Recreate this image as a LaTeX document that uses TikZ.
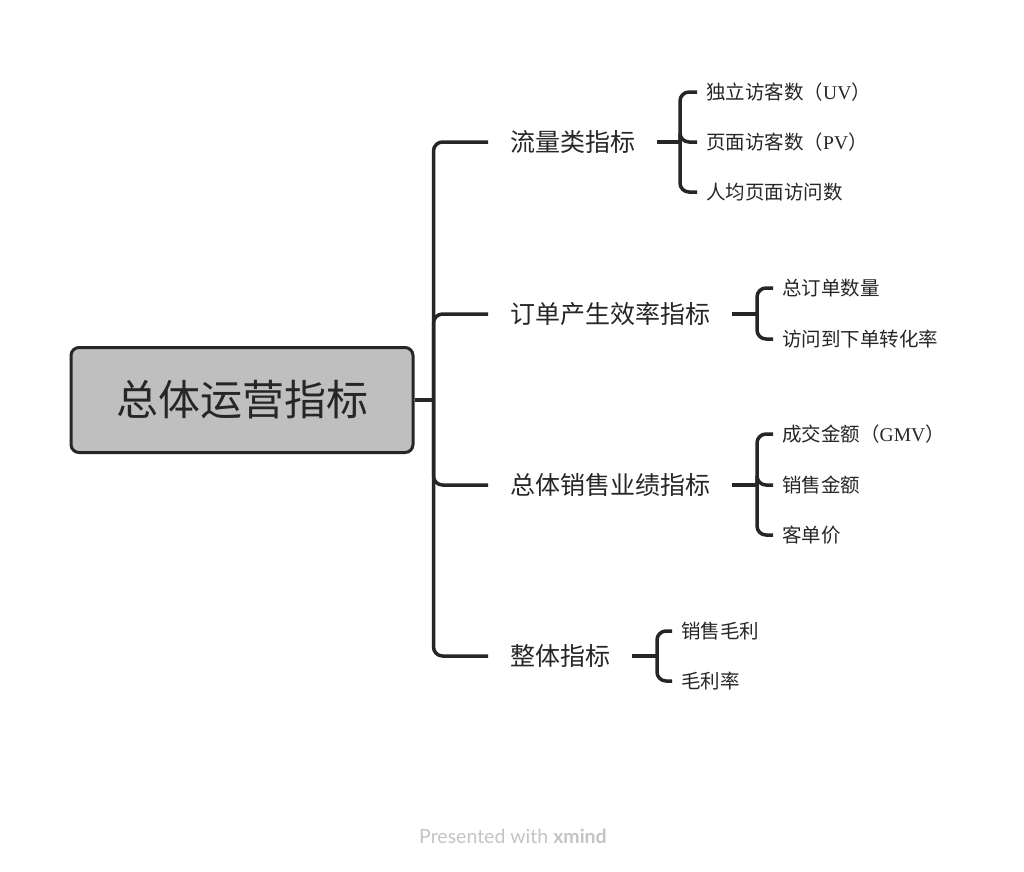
\documentclass[tikz,border=0pt]{standalone}
\usepackage{fontspec}
\newfontfamily\cjk{Noto Sans CJK SC}
\newfontfamily\lat{Liberation Serif}
\newfontfamily\foot{Lato}
\definecolor{linegray}{HTML}{262626}
\definecolor{rootgray}{HTML}{BFBFBF}
\definecolor{footgray}{HTML}{C4C4C4}
\tikzset{
	rootbox/.style = {draw = linegray, line width = 3pt, fill = rootgray, rounded corners = 8pt,
		minimum width = 342pt, minimum height = 105pt, font = \cjk\fontsize{42}{50}\selectfont, text = linegray},
	branch/.style = {anchor = west, inner xsep = 22pt, font = \cjk\fontsize{25}{30}\selectfont, text = linegray},
	leaf/.style = {anchor = west, inner xsep = 9pt, font = \cjk\fontsize{19.5}{24}\selectfont, text = linegray},
	conn/.style = {draw = linegray, line width = 3.5pt, rounded corners = 9pt}
}
\begin{document}
\begin{tikzpicture} [x = 1pt, y = -1pt]
	\useasboundingbox [fill = white] (0,0) rectangle (1024,871);
	% root
	\node [rootbox] (root) at (242,400) {总体运营指标};
	% branches
	\node [branch] (flow) at (488,142) {流量类指标};
	\node [branch] (order) at (488,314) {订单产生效率指标};
	\node [branch] (sales) at (488,485) {总体销售业绩指标};
	\node [branch] (total) at (488,656) {整体指标};
	% leaves
	\node [leaf] (uv) at (697,92) {独立访客数（{\lat UV}）};
	\node [leaf] (pv) at (697,142) {页面访客数（{\lat PV}）};
	\node [leaf] (avgpv) at (697,192) {人均页面访问数};
	\node [leaf] (ordernum) at (773,288) {总订单数量};
	\node [leaf] (convrate) at (773,339) {访问到下单转化率};
	\node [leaf] (gmv) at (773,434) {成交金额（{\lat GMV}）};
	\node [leaf] (salesamt) at (773,485) {销售金额};
	\node [leaf] (perorder) at (773,535) {客单价};
	\node [leaf] (profit) at (672,631) {销售毛利};
	\node [leaf] (margin) at (672,681) {毛利率};
	% connectors
	\draw [conn] (root.east) -- ++(19,0) coordinate (j0);
	\foreach \b in {flow, order, sales, total}
		\draw [conn] (j0) |- (\b.west);
	\draw [conn] (flow.east) -- (680,142) coordinate (j1);
	\foreach \l in {uv, pv, avgpv}
		\draw [conn] (j1) |- (\l.west);
	\draw [conn] (order.east) -- (757,314) coordinate (j2);
	\foreach \l in {ordernum, convrate}
		\draw [conn] (j2) |- (\l.west);
	\draw [conn] (sales.east) -- (757,485) coordinate (j3);
	\foreach \l in {gmv, salesamt, perorder}
		\draw [conn] (j3) |- (\l.west);
	\draw [conn] (total.east) -- (657,656) coordinate (j4);
	\foreach \l in {profit, margin}
		\draw [conn] (j4) |- (\l.west);
	% footer
	\node [text = footgray, font = \foot\fontsize{19.5}{22}\selectfont] (footer) at (513,836) {Presented with \textbf{xmind}};
\end{tikzpicture}
\end{document}
